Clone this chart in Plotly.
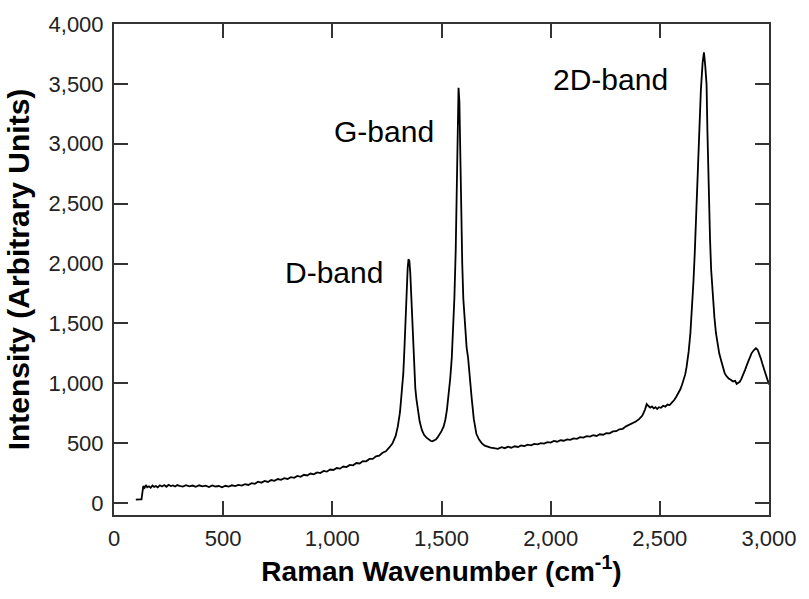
import plotly.graph_objects as go

# Raman wavenumber (cm^-1)
wavenumber = [
    100, 110, 120, 126, 130, 134, 140, 146, 152, 160, 168, 176, 184, 192, 200,
    210, 220, 230, 240, 250, 260, 270, 280, 290, 300, 315, 330, 345, 360, 375,
    390, 405, 420, 435, 450, 465, 480, 495, 510, 525, 540, 555, 570, 585, 600,
    615, 630, 645, 660, 675, 690, 705, 720, 735, 750, 765, 780, 795, 810, 825,
    840, 855, 870, 885, 900, 915, 930, 945, 960, 975, 990, 1005, 1020, 1035, 1050,
    1065, 1080, 1095, 1110, 1125, 1140, 1155, 1170, 1185, 1200, 1215, 1230, 1245, 1260, 1275,
    1290, 1300, 1310, 1318, 1325, 1330, 1334, 1337, 1341, 1345, 1349, 1353, 1357, 1361, 1365,
    1370, 1375, 1380, 1385, 1392, 1400, 1410, 1420, 1430, 1440, 1450, 1458, 1466, 1474, 1482,
    1490, 1500, 1510, 1518, 1525, 1532, 1540, 1547, 1553, 1559, 1565, 1570, 1574, 1578, 1582,
    1586, 1590, 1595, 1600, 1608, 1615, 1622, 1630, 1638, 1648, 1660, 1672, 1685, 1698, 1710,
    1725, 1740, 1758, 1775, 1790, 1805, 1820, 1835, 1850, 1865, 1880, 1895, 1910, 1925, 1940,
    1955, 1970, 1985, 2000, 2015, 2030, 2045, 2060, 2075, 2090, 2105, 2120, 2135, 2150, 2165,
    2180, 2195, 2210, 2225, 2240, 2255, 2270, 2285, 2300, 2315, 2330, 2345, 2360, 2375, 2390,
    2405, 2420, 2432, 2440, 2448, 2456, 2464, 2472, 2480, 2488, 2496, 2505, 2515, 2525, 2535,
    2545, 2556, 2566, 2576, 2586, 2594, 2602, 2610, 2616, 2622, 2628, 2632, 2640, 2647, 2654,
    2660, 2666, 2672, 2680, 2688, 2696, 2702, 2708, 2714, 2718, 2722, 2726, 2730, 2735, 2740,
    2745, 2750, 2757, 2764, 2772, 2782, 2790, 2797, 2805, 2815, 2825, 2835, 2845, 2852, 2858,
    2865, 2872, 2880, 2890, 2900, 2910, 2920, 2930, 2940, 2948, 2955, 2962, 2970, 2978, 2986,
    2993, 3000,
]

# Intensity (arbitrary units)
intensity = [
    28, 26, 30, 30, 95, 142, 128, 150, 132, 140, 128, 146, 135, 142, 131,
    148, 138, 150, 136, 152, 141, 147, 138, 150, 144, 137, 149, 140, 146, 136,
    148, 139, 145, 134, 147, 138, 142, 132, 144, 137, 148, 141, 152, 146, 158,
    151, 166, 160, 178, 170, 184, 176, 192, 185, 200, 193, 208, 201, 216, 210,
    226, 219, 236, 230, 246, 240, 256, 250, 268, 262, 280, 276, 292, 287, 305,
    300, 318, 315, 334, 330, 350, 348, 368, 368, 390, 395, 420, 432, 462, 496,
    560, 640, 760, 900, 1080, 1280, 1500, 1700, 1900, 1960, 2036, 2020, 1920, 1760, 1560,
    1300, 1100, 960, 870, 760, 680, 610, 570, 548, 530, 520, 515, 524, 530, 548,
    568, 600, 640, 700, 780, 880, 1040, 1210, 1450, 1710, 2100, 2600, 3100, 3468, 3350,
    2900, 2400, 2000, 1705, 1450, 1300, 1209, 1020, 880, 700, 576, 530, 498, 479, 470,
    462, 458, 452, 466, 458, 470, 462, 474, 468, 480, 476, 488, 482, 494, 490,
    500, 496, 508, 504, 518, 512, 524, 520, 532, 528, 540, 536, 550, 546, 558,
    554, 566, 560, 574, 570, 584, 582, 598, 600, 616, 620, 640, 652, 668, 680,
    700, 730, 780, 826, 810, 796, 806, 790, 800, 785, 800, 795, 812, 805, 822,
    818, 840, 860, 890, 920, 950, 990, 1030, 1072, 1130, 1200, 1264, 1420, 1595, 1850,
    2090, 2400, 2669, 3165, 3450, 3680, 3763, 3650, 3496, 3100, 2750, 2450, 2200, 1950, 1800,
    1678, 1550, 1420, 1320, 1250, 1182, 1130, 1085, 1060, 1040, 1030, 1015, 1020, 995, 1002,
    1010, 1030, 1060, 1110, 1160, 1210, 1250, 1275, 1292, 1280, 1250, 1210, 1160, 1110, 1060,
    1017, 990,
]

band_labels = ["D-band", "G-band", "2D-band"]
band_label_x = [1006, 1237, 2276]
band_label_y = [1926, 3103, 3540]

x_ticks = [0, 500, 1000, 1500, 2000, 2500, 3000]
y_ticks = [0, 500, 1000, 1500, 2000, 2500, 3000, 3500, 4000]

FONT = "Liberation Sans, Arial, sans-serif"

fig = go.Figure()
fig.add_trace(go.Scatter(
    x=wavenumber, y=intensity, mode="lines",
    line=dict(color="black", width=1.8),
    showlegend=False,
))

for txt, xv, yv in zip(band_labels, band_label_x, band_label_y):
    fig.add_annotation(x=xv, y=yv, text=txt, showarrow=False,
                       font=dict(family=FONT, size=30, color="black"),
                       xanchor="center", yanchor="middle")

axis_common = dict(
    showline=True, linecolor="#333", linewidth=2, mirror="ticks",
    ticks="inside", ticklen=14, tickwidth=2, tickcolor="#333",
    showgrid=False, zeroline=False,
    tickfont=dict(family=FONT, size=22, color="#222"),
    tickformat=",d",
)

fig.update_xaxes(
    range=[0, 3000], tickvals=x_ticks,
    title=dict(text="Raman Wavenumber (cm<sup>-1</sup>)",
               font=dict(family=FONT, size=28, color="black", weight="bold"),
               standoff=9),
    ticklabelstandoff=3,
    **axis_common,
)
fig.update_yaxes(
    range=[-100, 4000], tickvals=y_ticks,
    title=dict(text="Intensity (Arbitrary Units)",
               font=dict(family=FONT, size=30, color="black", weight="bold"),
               standoff=10),
    ticklabelstandoff=4,
    **axis_common,
)

fig.update_layout(
    width=809, height=599,
    margin=dict(l=114, r=31, t=19, b=84),
    paper_bgcolor="white", plot_bgcolor="white",
    font=dict(family=FONT),
)

fig.write_html("out.html")
